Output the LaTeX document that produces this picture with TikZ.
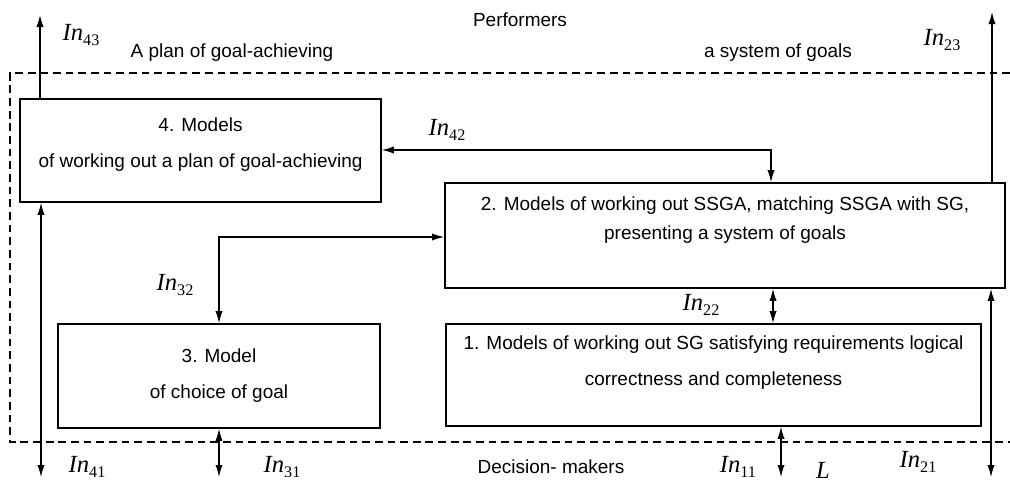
\documentclass[tikz,border=0pt]{standalone}
\usepackage{fontspec}
\setmainfont{Liberation Sans}
\newfontfamily\tms{Liberation Serif}
\usetikzlibrary{arrows.meta}
\newcommand{\inlab}[1]{{\tms\itshape In}\raisebox{-0.45ex}{\fontsize{11.5}{12}\selectfont\tms #1}}

\begin{document}
\begin{tikzpicture}[x=0.025cm, y=-0.025cm, >={Latex[length=3mm,width=1.8mm]},
  modelbox/.style={draw, line width=1.2pt, align=center, font=\fontsize{13.5}{25.5}\selectfont},
  link/.style={line width=0.8pt},
  inlabel/.style={font=\fontsize{17.5}{20}\selectfont},
  caption/.style={font=\fontsize{13.5}{16}\selectfont}]
\useasboundingbox (0,0) rectangle (1010,482);

% Boundary of the system
\draw[line width=0.8pt, dash pattern=on 5.5pt off 3.5pt] (1010,73) -- (10,73) -- (10,442) -- (1010,442);

% Model blocks
\node[modelbox, minimum width=9.025cm, minimum height=2.575cm, text depth=0.375cm] (plan) at (200.5,150.5) {4. Models\\of working out a plan of goal-achieving};
\node[modelbox, minimum width=14cm, minimum height=2.625cm, text depth=0.875cm, font=\fontsize{13.5}{21}\selectfont] (sysg) at (725,235.5) {2. Models of working out SSGA, matching SSGA with SG,\\presenting a system of goals};
\node[modelbox, minimum width=13.375cm, minimum height=2.55cm, text depth=0.7cm] (sg) at (713.5,375) {1. Models of working out SG satisfying requirements logical\\correctness and completeness};
\node[modelbox, minimum width=8.05cm, minimum height=2.6cm] (choice) at (219,376) {3. Model\\of choice of goal};

% Free ends of the connectors
\coordinate (t43) at (40,15);
\coordinate (t23) at (992,12);
\coordinate (c42) at (771,150);
\coordinate (c32) at (219,237);
\coordinate (m22) at (773,305);
\coordinate (b41) at (41,477);
\coordinate (b31) at (219,477);
\coordinate (b11) at (781,477);
\coordinate (b21) at (991,477);

% Connectors
\draw[link, ->] (plan.north -| t43) -- (t43);
\draw[link, ->] (sysg.north -| t23) -- (t23);
\draw[link, <->] (plan.east |- c42) -- (c42) -- (sysg.north -| c42);
\draw[link, <->] (choice.north -| c32) -- (c32) -- (sysg.west |- c32);
\draw[link, <->] (sysg.south -| m22) -- (sg.north -| m22);
\draw[link, <->] (plan.south -| b41) -- (b41);
\draw[link, <->] (choice.south -| b31) -- (b31);
\draw[link, <->] (sg.south -| b11) -- (b11);
\draw[link, <->] (sysg.south -| b21) -- (b21);

% Flow labels
\node[inlabel] (l43) at (81,35) {\inlab{43}};
\node[inlabel] (l23) at (942,40) {\inlab{23}};
\node[inlabel] (l42) at (447,130) {\inlab{42}};
\node[inlabel] (l32) at (175,285) {\inlab{32}};
\node[inlabel] (l22) at (701,305) {\inlab{22}};
\node[inlabel] (l41) at (87,467) {\inlab{41}};
\node[inlabel] (l31) at (282,467) {\inlab{31}};
\node[inlabel] (l11) at (738,467) {\inlab{11}};
\node[inlabel] (l21) at (918,462) {\inlab{21}};
\node[inlabel] (lL) at (823,470) {{\tms\itshape L}};

% Outer parties and results
\node[caption] (perf) at (520,20) {Performers};
\node[caption] (planout) at (232,53) {A plan of goal-achieving};
\node[caption] (goalsout) at (778,53) {a system of goals};
\node[caption] (dm) at (551,467) {Decision- makers};

\end{tikzpicture}
\end{document}
